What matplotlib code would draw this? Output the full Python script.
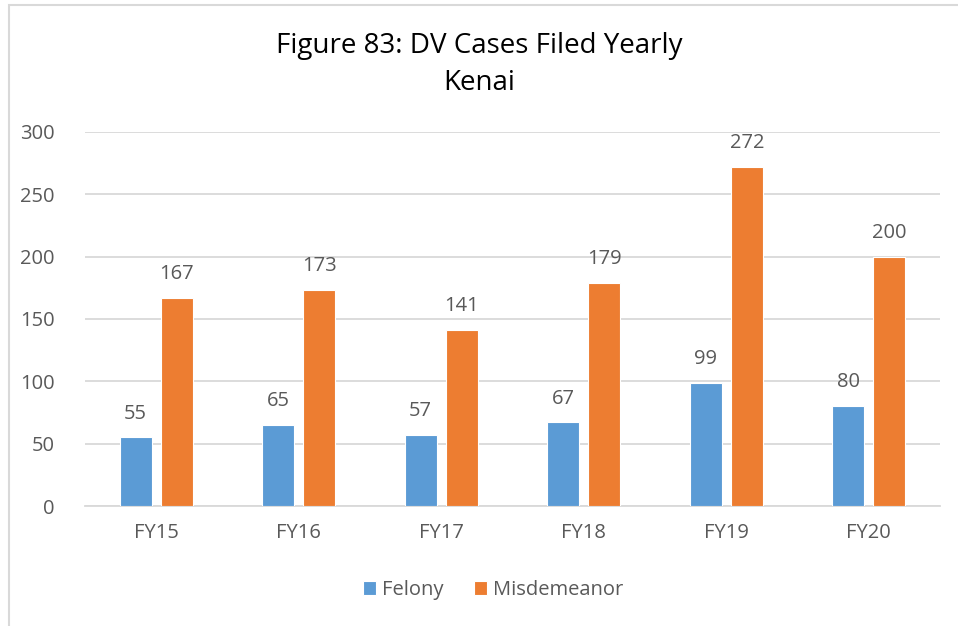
import numpy as np
import matplotlib.pyplot as plt
from matplotlib.patches import Rectangle

years = ["FY15", "FY16", "FY17", "FY18", "FY19", "FY20"]
felony = [55, 65, 57, 67, 99, 80]
misdemeanor = [167, 173, 141, 179, 272, 200]

blue = "#5B9BD5"
orange = "#ED7D31"
grey_text = "#595959"

plt.rcParams["font.family"] = ["Open Sans", "DejaVu Sans"]

fig = plt.figure(figsize=(9.58, 6.26), dpi=100)
ax = fig.add_axes([85 / 958, 1 - 506 / 626, 855 / 958, 374 / 626])

x = np.arange(len(years))
w = 0.225
off = 0.145
b1 = ax.bar(x - off, felony, w, color=blue, edgecolor="white", linewidth=0.8, label="Felony", zorder=3)
b2 = ax.bar(x + off, misdemeanor, w, color=orange, edgecolor="white", linewidth=0.8, label="Misdemeanor", zorder=3)

for bars, vals in ((b1, felony), (b2, misdemeanor)):
    for r, v in zip(bars, vals):
        ax.annotate(str(v), (r.get_x() + r.get_width() / 2, v), xytext=(0, 10),
                    textcoords="offset points", ha="center", va="bottom",
                    fontsize=14.5, color=grey_text)

ax.set_xlim(-0.5, len(years) - 0.5)
ax.set_ylim(0, 300)
ax.set_yticks(range(0, 301, 50))
ax.set_xticks(x)
ax.set_xticklabels(years)
ax.yaxis.grid(True, color="#D9D9D9", linewidth=1.3, zorder=0)
ax.set_axisbelow(True)
for s in ["top", "right", "left"]:
    ax.spines[s].set_visible(False)
ax.spines["bottom"].set_color("#D9D9D9")
ax.spines["bottom"].set_linewidth(1.3)
ax.tick_params(axis="both", length=0, labelsize=14.5, labelcolor=grey_text)
ax.tick_params(axis="y", pad=22)
ax.tick_params(axis="x", pad=12)

fig.text(0.5, 1 - 46 / 626, "Figure 83: DV Cases Filed Yearly", ha="center", va="center",
         fontsize=20, color="black")
fig.text(0.5, 1 - 83 / 626, "Kenai", ha="center", va="center", fontsize=20, color="black")

fig.legend(handles=[b1, b2], loc="center", bbox_to_anchor=(0.515, 1 - 590 / 626), ncol=2,
           frameon=False, fontsize=14.5, labelcolor=grey_text, handlelength=0.65,
           handleheight=0.65, handletextpad=0.3, columnspacing=1.5)

# outer chart frame (left and top edges only)
fig.patches.append(Rectangle((8.5 / 958, -0.1), 1.2, 1.1 - 5.5 / 626,
                             transform=fig.transFigure, fill=False,
                             edgecolor="#D9D9D9", linewidth=1.5))

fig.savefig("out.png", dpi=100)
